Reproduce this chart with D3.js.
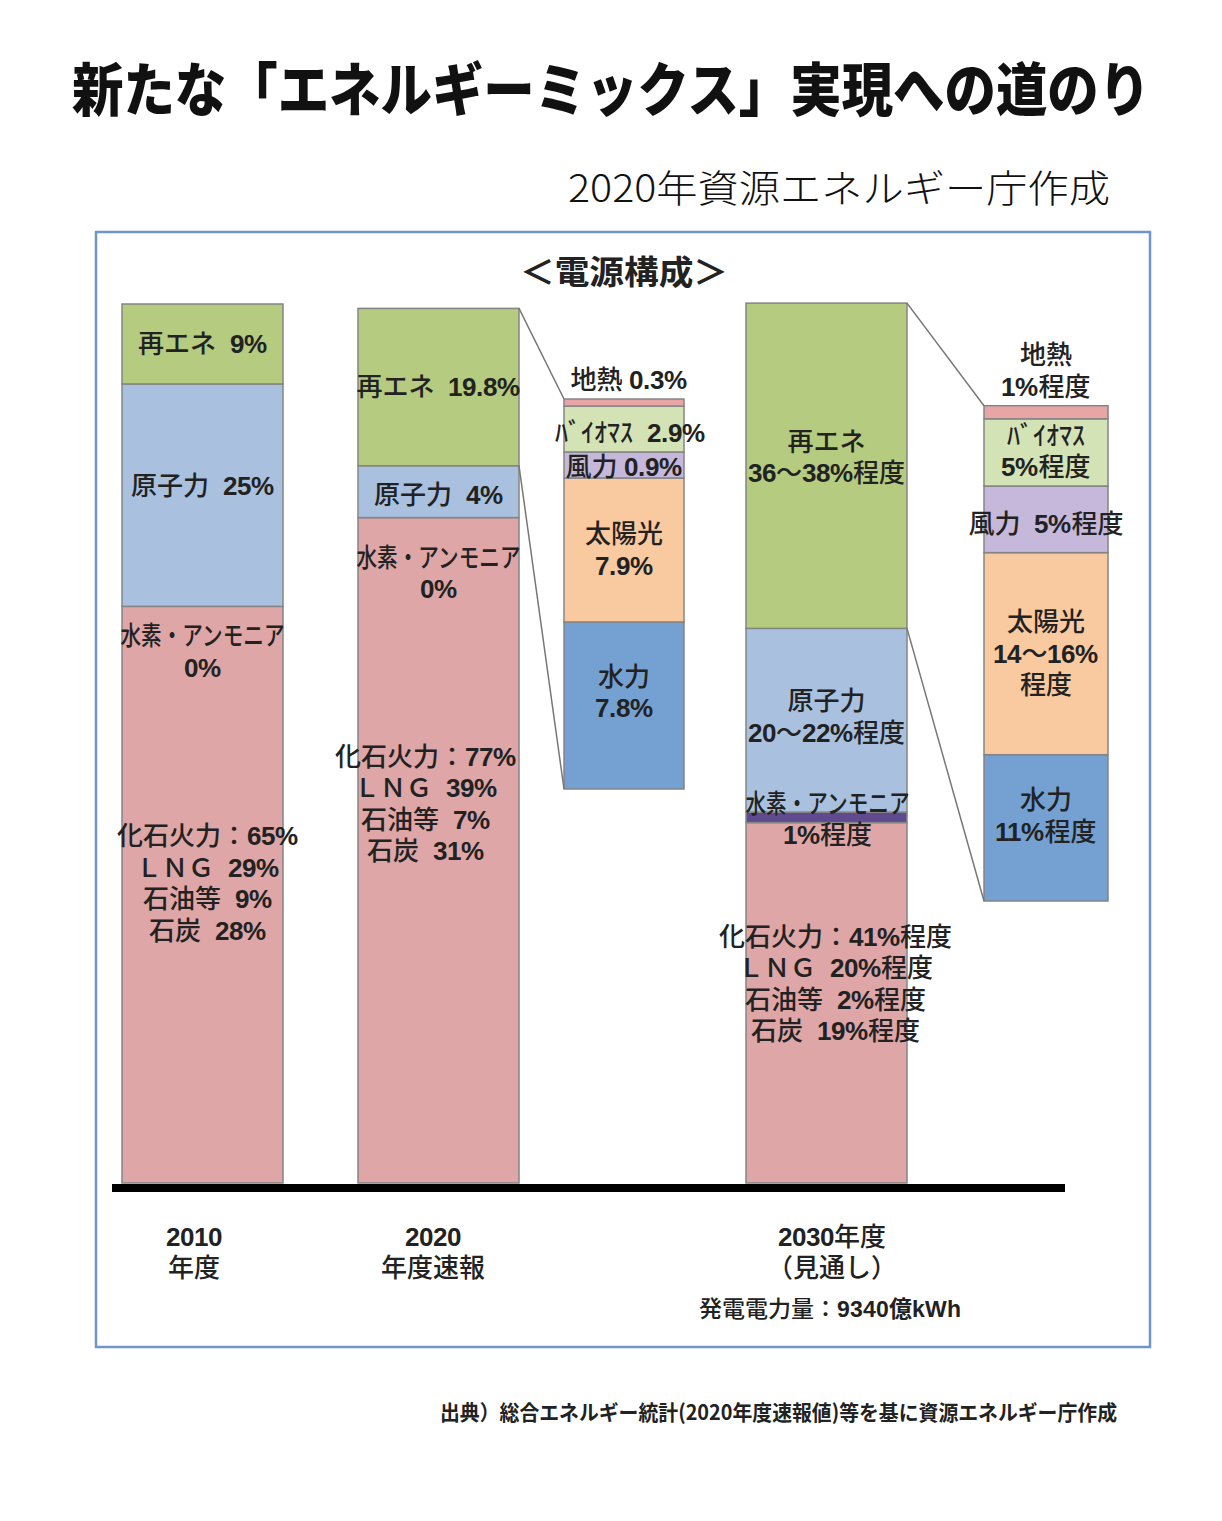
<!DOCTYPE html>
<html><head><meta charset="utf-8">
<script src="https://cdn.jsdelivr.net/npm/d3@7"></script>
<style>
@font-face{font-family:"LblLatin";src:local("Liberation Sans Bold"),local("LiberationSans-Bold");font-weight:100 900;unicode-range:U+0000-00FF;}
html,body{margin:0;padding:0;background:#fff;}
text{font-family:"Noto Sans CJK JP","Noto Sans",sans-serif;}
text.lbl{font-family:"LblLatin","Liberation Sans","Noto Sans CJK JP",sans-serif;}
</style></head>
<body>
<svg id="chart" width="1222" height="1521"></svg>
<script>
// ---------------- DATA ----------------
const years = ["2010", "2020", "2030"];
const yearLabels = [["2010", "年度"], ["2020", "年度速報"], ["2030年度", "（見通し）"]];
// stacked bottom -> top, shares (%) as drawn
const mainKeys = ["fossil", "hydrogen", "nuclear", "renew"];
const fossil   = [65.6, 75.7, 41.0];
const hydrogen = [0.0, 0.0, 1.2];
const nuclear  = [25.3, 5.9, 20.9];
const renew    = [9.1, 17.9, 37.0];

const renewLabels   = [["再エネ  9%"], ["再エネ  19.8%"], ["再エネ", "36～38%程度"]];
const nuclearLabels = [["原子力  25%"], ["原子力  4%"], ["原子力", "20～22%程度"]];
const hydrogenLabels = [["水素・アンモニア", "0%"], ["水素・アンモニア", "0%"], ["水素・アンモニア", "1%程度"]];
const fossilLabels = [
  ["化石火力：65%", "ＬＮＧ  29%", "石油等  9%", "石炭  28%"],
  ["化石火力：77%", "ＬＮＧ  39%", "石油等  7%", "石炭  31%"],
  ["化石火力：41%程度", "ＬＮＧ  20%程度", "石油等  2%程度", "石炭  19%程度"]
];

// renewable breakdown, bottom -> top (%)
const reKeys = ["hydro", "solar", "wind", "biomass", "geo"];
const reYears = ["2020", "2030"];
const re2020 = [8.48, 7.31, 1.32, 2.33, 0.36];
const re2030 = [10.93, 15.10, 4.98, 5.02, 0.98];
const reLabels2020 = {hydro: ["水力", "7.8%"], solar: ["太陽光", "7.9%"], wind: ["風力 0.9%"], biomass: ["ﾊﾞｲｵﾏｽ  2.9%"], geo: ["地熱 0.3%"]};
const reLabels2030 = {hydro: ["水力", "11%程度"], solar: ["太陽光", "14～16%", "程度"], wind: ["風力  5%程度"], biomass: ["ﾊﾞｲｵﾏｽ", "5%程度"], geo: ["地熱", "1%程度"]};

const titleText = "新たな「エネルギーミックス」実現への道のり";
const subtitleText = "2020年資源エネルギー庁作成";
const panelTitle = "＜電源構成＞";
const totalLabel = "発電電力量：";
const totalValue = "9340億kWh";
const sourceText = "出典）総合エネルギー統計(2020年度速報値)等を基に資源エネルギー庁作成";

// ---------------- STYLE / LAYOUT ----------------
const colors = {
  renew: "#b5cb7f", nuclear: "#a9c1de", hydrogen: "#5f4a90", fossil: "#dea6a7",
  geo: "#e7a5a6", biomass: "#d4e3b6", wind: "#c6b8da", solar: "#f9c9a0", hydro: "#74a1d1"
};
const strokeCol = "#858585";
const svg = d3.select("#chart");

const yMain = d3.scaleLinear().domain([0, 100]).range([1183, 304]);
const xMain = d3.scaleOrdinal().domain(years).range([122, 358, 746]);
const mainW = 161;

const reLayout = {
  "2020": {x: 564, w: 120, bottom: 789, top: 399, total: d3.sum(re2020)},
  "2030": {x: 984, w: 124, bottom: 901, top: 405.7, total: d3.sum(re2030)}
};

function draw() {
// ---------------- HEADER ----------------
const titleSize = 58;
svg.append("g").attr("transform", `translate(72,86) scale(${1080 / (21 * titleSize)},1)`)
  .append("text").attr("x", 0).attr("y", 0).attr("dominant-baseline", "central")
  .attr("font-size", titleSize).attr("font-weight", 900).attr("fill", "#111").text(titleText);
svg.append("text").attr("x", 568).attr("y", 185).attr("dominant-baseline", "central")
  .attr("font-size", 38).attr("font-weight", 300).attr("fill", "#111")
  .attr("textLength", 542).attr("lengthAdjust", "spacingAndGlyphs").text(subtitleText);

// frame
svg.append("rect").attr("x", 96).attr("y", 232).attr("width", 1054).attr("height", 1115)
  .attr("fill", "none").attr("stroke", "#7096c9").attr("stroke-width", 2.5);
svg.append("text").attr("x", 624).attr("y", 270).attr("text-anchor", "middle").attr("dominant-baseline", "central")
  .attr("font-size", 33).attr("font-weight", 700).attr("fill", "#222")
  .attr("textLength", 208).attr("lengthAdjust", "spacingAndGlyphs").text(panelTitle);

// ---------------- MAIN STACKED BARS ----------------
const table = years.map((y, i) => ({year: y, fossil: fossil[i], hydrogen: hydrogen[i], nuclear: nuclear[i], renew: renew[i]}));
const series = d3.stack().keys(mainKeys)(table);

const gMain = svg.append("g");
series.forEach(s => {
  gMain.selectAll(null).data(s.filter(d => d[1] - d[0] > 0)).enter().append("rect")
    .attr("x", d => xMain(d.data.year))
    .attr("width", mainW)
    .attr("y", d => yMain(d[1]))
    .attr("height", d => yMain(d[0]) - yMain(d[1]))
    .attr("fill", colors[s.key])
    .attr("stroke", strokeCol).attr("stroke-width", 1.5);
});

// ---------------- BREAKDOWN BARS ----------------
const reData = {"2020": re2020, "2030": re2030};
const reLab = {"2020": reLabels2020, "2030": reLabels2030};
const reScales = {};
reYears.forEach(yr => {
  const L = reLayout[yr];
  const ys = d3.scaleLinear().domain([0, L.total]).range([L.bottom, L.top]);
  reScales[yr] = ys;
  const row = {}; reKeys.forEach((k, i) => row[k] = reData[yr][i]);
  const st = d3.stack().keys(reKeys)([row]);
  st.forEach(s => {
    svg.append("rect")
      .attr("x", L.x).attr("width", L.w)
      .attr("y", ys(s[0][1])).attr("height", ys(s[0][0]) - ys(s[0][1]))
      .attr("fill", colors[s.key]).attr("stroke", strokeCol).attr("stroke-width", 1.5);
  });
  const i = years.indexOf(yr);
  const sRen = series.find(s => s.key === "renew")[i];
  const xr = xMain(yr) + mainW;
  const lg = svg.append("g").attr("stroke", "#777").attr("stroke-width", 1.5);
  lg.append("line").attr("x1", xr).attr("y1", yMain(sRen[1])).attr("x2", L.x).attr("y2", ys(L.total));
  lg.append("line").attr("x1", xr).attr("y1", yMain(sRen[0])).attr("x2", L.x).attr("y2", ys(0));
});

// baseline
svg.append("line").attr("x1", 112).attr("x2", 1065).attr("y1", 1188).attr("y2", 1188)
  .attr("stroke", "#000").attr("stroke-width", 8);

// ---------------- LABELS ----------------
const labelFont = 26, lh = 31.5;
function block(lines, cx, cy, opts = {}) {
  const n = lines.length, L = opts.lh || lh;
  const t = svg.append("text").attr("class", "lbl").attr("x", cx).attr("y", cy)
    .attr("text-anchor", "middle").attr("dominant-baseline", "central")
    .attr("font-size", opts.size || labelFont).attr("font-weight", opts.weight || 500)
    .attr("fill", "#222").style("white-space", "pre");
  lines.forEach((ln, k) => {
    const ts = t.append("tspan").attr("x", cx).attr("y", cy + (k - (n - 1) / 2) * L)
      .attr("dominant-baseline", "central").text(ln);
    if (opts.fit && opts.fit[k]) ts.attr("textLength", opts.fit[k]).attr("lengthAdjust", "spacingAndGlyphs");
  });
  return t;
}
function blockTop(lines, cx, y0, opts = {}) {
  const n = lines.length;
  return block(lines, cx, y0 + (n - 1) / 2 * (opts.lh || lh), opts);
}
const sFoss = series.find(s => s.key === "fossil");
const sHyd = series.find(s => s.key === "hydrogen");
const sNuc = series.find(s => s.key === "nuclear");
const sRen = series.find(s => s.key === "renew");
const fossilOffset = [230, 239, 114];
const fossilDx = [5, -13, 9];
const hydFit = {0: 164};
years.forEach((yr, i) => {
  const cx = xMain(yr) + mainW / 2;
  const mid = s => (yMain(s[i][0]) + yMain(s[i][1])) / 2;
  block(renewLabels[i], cx, mid(sRen) + (i === 2 ? -8 : 0));
  block(nuclearLabels[i], cx, mid(sNuc) + (i === 0 ? -9 : (i === 2 ? -3 : 3)));
  if (i < 2) {
    blockTop(hydrogenLabels[i], cx, yMain(sFoss[i][1]) + (i === 0 ? 30 : 40), {fit: hydFit});
  } else {
    block(hydrogenLabels[i], cx + 1, mid(sHyd) + 2, {fit: hydFit});
  }
  blockTop(fossilLabels[i], cx + fossilDx[i], yMain(sFoss[i][1]) + fossilOffset[i]);
  const axisCx = [194, 433, 832][i];
  block(yearLabels[i], axisCx, 1252.5, {size: 26, weight: 500});
});

reYears.forEach(yr => {
  const L = reLayout[yr], ys = reScales[yr];
  const cx = L.x + L.w / 2;
  const row = {}; reKeys.forEach((k, i) => row[k] = reData[yr][i]);
  const st = d3.stack().keys(reKeys)([row]);
  st.forEach(s => {
    const lines = reLab[yr][s.key];
    if (s.key === "geo") {
      const n = lines.length;
      block(lines, cx + (yr === "2020" ? 5 : 0), ys(L.total) - 19 - (n - 1) / 2 * lh);
    } else {
      let dy = 0;
      if (s.key === "hydro") dy = yr === "2020" ? -13 : -12;
      if (s.key === "biomass") dy = yr === "2020" ? 4 : -1;
      if (s.key === "wind") dy = yr === "2020" ? 2 : 5;
      block(lines, cx + (s.key === "biomass" && yr === "2020" ? 6 : 0), (ys(s[0][0]) + ys(s[0][1])) / 2 + dy);
    }
  });
});

// total generation
const tot = svg.append("text").attr("class", "lbl").attr("x", 830).attr("y", 1309).attr("text-anchor", "middle")
  .attr("dominant-baseline", "central").attr("font-size", 23).attr("fill", "#222");
tot.append("tspan").attr("font-weight", 500).text(totalLabel);
tot.append("tspan").attr("font-weight", 700).text(totalValue);

// source
svg.append("text").attr("x", 440).attr("y", 1411).attr("dominant-baseline", "central")
  .attr("font-size", 21).attr("font-weight", 700).attr("fill", "#222")
  .attr("textLength", 677).attr("lengthAdjust", "spacingAndGlyphs").text(sourceText);
}
if (document.fonts && document.fonts.load) {
  document.fonts.load('26px "LblLatin"').then(draw, draw);
} else { draw(); }
</script>
</body></html>
